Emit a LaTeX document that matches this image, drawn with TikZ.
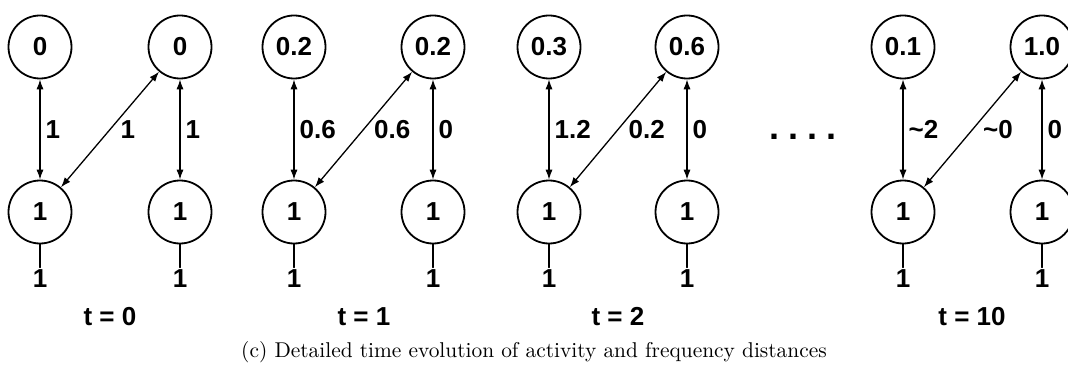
\documentclass[tikz,border=0pt]{standalone}
\usepackage{fontspec}
\usetikzlibrary{arrows.meta,positioning}
\newfontfamily\arialfont{Liberation Sans}
\tikzset{
  figbase/.style={x=0.5pt, y=-0.5pt, line cap=round, line join=round},
  state/.style={circle, draw, line width=0.9pt, minimum size=31.5pt, inner sep=0pt,
    font=\arialfont\bfseries\fontsize{13}{15}\selectfont},
  elab/.style={font=\arialfont\bfseries\fontsize{13}{15}\selectfont, inner sep=1pt},
  tlab/.style={font=\arialfont\bfseries\fontsize{13}{15}\selectfont, inner sep=1pt},
  biarr/.style={{Latex[length=5pt,width=3.6pt]}-{Latex[length=5pt,width=3.6pt]}, line width=0.65pt},
  stem/.style={line width=0.75pt},
}
\begin{document}
\begin{tikzpicture}[figbase]
  \clip (0,0) rectangle (1068,379);

  % t = 0
  \node[state] (p1a) at (40,47) {0};
  \node[state] (p1b) at (180,47) {0};
  \node[state] (p1c) at (40,212) {1};
  \node[state] (p1d) at (180,212) {1};
  \draw[biarr] (p1a) -- (p1c) node[elab, midway, right=1.5pt] {1};
  \draw[biarr] (p1c) -- (p1b) node[elab, midway, right=4pt] {1};
  \draw[biarr] (p1b) -- (p1d) node[elab, midway, right=1.5pt] {1};
  \node[elab, below=11.5pt of p1c] (p1cv) {1};
  \node[elab, below=11.5pt of p1d] (p1dv) {1};
  \draw[stem] (p1c) -- (p1cv);
  \draw[stem] (p1d) -- (p1dv);
  \node[tlab] (t1) at (110,317) {t = 0};

  % t = 1
  \node[state] (p2a) at (294,47) {0.2};
  \node[state] (p2b) at (433,47) {0.2};
  \node[state] (p2c) at (294,212) {1};
  \node[state] (p2d) at (433,212) {1};
  \draw[biarr] (p2a) -- (p2c) node[elab, midway, right=1.5pt] {0.6};
  \draw[biarr] (p2c) -- (p2b) node[elab, midway, right=4pt] {0.6};
  \draw[biarr] (p2b) -- (p2d) node[elab, midway, right=1.5pt] {0};
  \node[elab, below=11.5pt of p2c] (p2cv) {1};
  \node[elab, below=11.5pt of p2d] (p2dv) {1};
  \draw[stem] (p2c) -- (p2cv);
  \draw[stem] (p2d) -- (p2dv);
  \node[tlab] (t2) at (364,317) {t = 1};

  % t = 2
  \node[state] (p3a) at (549,47) {0.3};
  \node[state] (p3b) at (687,47) {0.6};
  \node[state] (p3c) at (549,212) {1};
  \node[state] (p3d) at (687,212) {1};
  \draw[biarr] (p3a) -- (p3c) node[elab, midway, right=1.5pt] {1.2};
  \draw[biarr] (p3c) -- (p3b) node[elab, midway, right=4pt] {0.2};
  \draw[biarr] (p3b) -- (p3d) node[elab, midway, right=1.5pt] {0};
  \node[elab, below=11.5pt of p3c] (p3cv) {1};
  \node[elab, below=11.5pt of p3d] (p3dv) {1};
  \draw[stem] (p3c) -- (p3cv);
  \draw[stem] (p3d) -- (p3dv);
  \node[tlab] (t3) at (618,317) {t = 2};

  \node[font=\arialfont\bfseries\fontsize{18}{20}\selectfont, inner sep=0pt, anchor=base]
    (dots) at (803,140) {.\hspace{4.5pt}.\hspace{4.5pt}.\hspace{4.5pt}.};

  % t = 10
  \node[state] (p4a) at (903,47) {0.1};
  \node[state] (p4b) at (1042,47) {1.0};
  \node[state] (p4c) at (903,212) {1};
  \node[state] (p4d) at (1042,212) {1};
  \draw[biarr] (p4a) -- (p4c) node[elab, midway, right=1.5pt] {\textasciitilde2};
  \draw[biarr] (p4c) -- (p4b) node[elab, midway, right=4pt] {\textasciitilde0};
  \draw[biarr] (p4b) -- (p4d) node[elab, midway, right=1.5pt] {0};
  \node[elab, below=11.5pt of p4c] (p4cv) {1};
  \node[elab, below=11.5pt of p4d] (p4dv) {1};
  \draw[stem] (p4c) -- (p4cv);
  \draw[stem] (p4d) -- (p4dv);
  \node[tlab] (t4) at (972,317) {t = 10};

  \node[font=\fontsize{10.7}{13}\selectfont] (cap) at (534,352)
    {(c) Detailed time evolution of activity and frequency distances};
\end{tikzpicture}
\end{document}
